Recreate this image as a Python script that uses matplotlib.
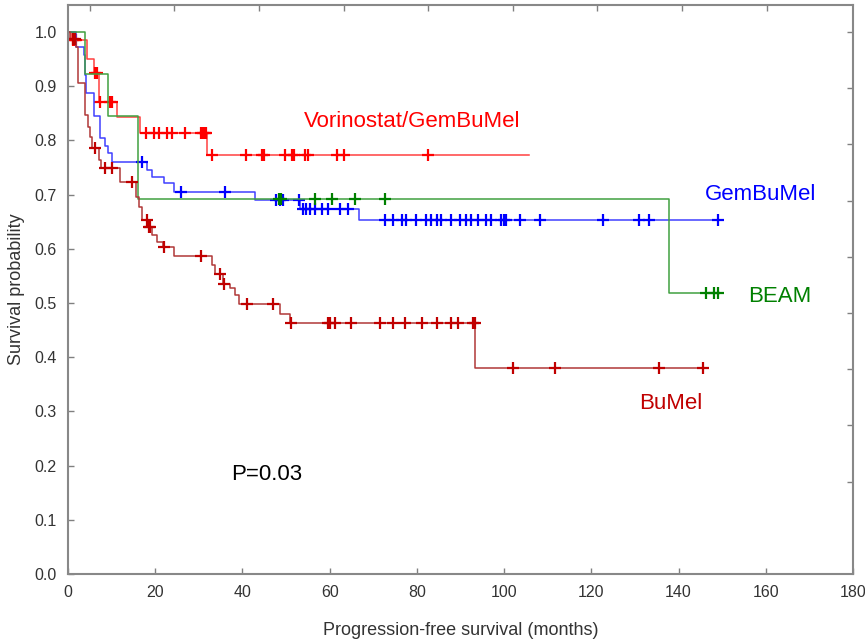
import numpy as np
import matplotlib
matplotlib.use("Agg")
import matplotlib.pyplot as plt

plt.rcParams['font.family'] = ['Liberation Sans', 'DejaVu Sans']

# Kaplan-Meier curves (months, survival after each drop)
vor_times = [0, 0.8, 4.3, 6.0, 7.1, 11.3, 16.6, 31.9]
vor_surv = [1.0, 0.985, 0.95, 0.924, 0.871, 0.844, 0.813, 0.774]
vor_end = 105.7
vor_cens = [1.1, 1.5, 1.8, 6.3, 6.7, 7.4, 9.6, 10.0, 17.9, 19.7, 20.8, 22.7, 23.9,
            26.9, 30.4, 30.9, 31.3, 31.6, 33.1, 40.8, 44.5, 45.0, 49.8, 51.4, 51.9,
            54.4, 55.0, 61.7, 63.4, 82.6]

gem_times = [0, 1.8, 3.6, 3.9, 4.1, 6.0, 7.3, 8.5, 9.2, 10.1, 18.1, 19.3, 22.0,
             24.3, 42.8, 53.2, 66.7]
gem_surv = [1.0, 0.973, 0.958, 0.92, 0.888, 0.845, 0.804, 0.79, 0.777, 0.761,
            0.745, 0.733, 0.721, 0.705, 0.691, 0.673, 0.653]
gem_end = 150.0
gem_cens = [16.9, 26.0, 35.9, 47.8, 48.5, 49.2, 52.9, 53.8, 54.6, 55.5, 56.7, 58.2,
            59.7, 62.4, 64.3, 72.7, 74.6, 76.5, 77.6, 79.9, 82.2, 83.3, 84.5, 85.6,
            87.9, 89.8, 91.2, 92.5, 94.0, 95.9, 97.1, 99.4, 99.9, 100.5, 103.6,
            108.2, 122.7, 131.0, 133.3, 149.0]

beam_times = [0, 4.0, 9.2, 16.1, 137.9]
beam_surv = [1.0, 0.923, 0.846, 0.692, 0.519]
beam_end = 149.5
beam_cens = [48.3, 48.9, 56.7, 60.5, 65.8, 72.7, 146.3, 148.1, 149.0]

bumel_times = [0, 0.5, 1.9, 2.4, 3.8, 4.6, 5.0, 5.6, 7.1, 7.6, 12.0, 15.5, 16.2,
               16.9, 18.5, 19.3, 20.4, 21.8, 24.3, 33.0, 33.8, 35.5, 37.2, 38.4,
               39.1, 48.7, 51.0, 93.4]
bumel_surv = [1.0, 0.987, 0.973, 0.906, 0.847, 0.825, 0.807, 0.787, 0.764, 0.750,
              0.724, 0.696, 0.678, 0.653, 0.640, 0.625, 0.613, 0.603, 0.587, 0.570,
              0.553, 0.536, 0.527, 0.515, 0.499, 0.480, 0.463, 0.381]
bumel_end = 146.0
bumel_cens = [1.2, 1.6, 6.3, 8.5, 10.1, 14.7, 18.1, 18.6, 18.9, 22.0, 30.4, 34.9,
              35.7, 41.0, 47.0, 51.1, 59.6, 60.1, 61.3, 64.9, 71.6, 74.6, 77.3,
              81.1, 84.5, 87.9, 89.5, 92.9, 93.3, 102.1, 111.6, 135.5, 145.5]

groups = [
    ("Vorinostat/GemBuMel", vor_times, vor_surv, vor_end, vor_cens, '#ff4040', '#ff0000', (79, 0.835), 'center'),
    ("GemBuMel", gem_times, gem_surv, gem_end, gem_cens, '#4040ff', '#0000ff', (146, 0.70), 'left'),
    ("BEAM", beam_times, beam_surv, beam_end, beam_cens, '#40a040', '#008000', (156, 0.513), 'left'),
    ("BuMel", bumel_times, bumel_surv, bumel_end, bumel_cens, '#b03838', '#c00000', (131, 0.315), 'left'),
]

fig = plt.figure(figsize=(8.65, 6.4), dpi=100)
ax = fig.add_axes([68 / 865, 66 / 640, 785 / 865, 569 / 640])

for name, t, s, end, cens, lc, mc, (tx, ty), ha in groups:
    tt = np.append(t, end)
    ss = np.append(s, s[-1])
    ax.step(tt, ss, where='post', color=lc, lw=1.1)
    idx = np.searchsorted(t, cens, side='right') - 1
    cy = np.asarray(s)[idx]
    ax.plot(cens, cy, linestyle='none', marker='+', ms=8, mew=1.6, color=mc)
    ax.text(tx, ty, name, color=mc, fontsize=16, ha=ha, va='center')

ax.text(37.5, 0.183, "P=0.03", fontsize=16, ha='left', va='center', color='black')

ax.set_xlim(0, 180)
ax.set_ylim(0, 1.05)
ax.set_xticks(np.arange(0, 181, 20))
ax.set_yticks(np.arange(0, 1.01, 0.1))
ax.set_yticklabels([f"{v:.1f}" for v in np.arange(0, 1.01, 0.1)])
ax.tick_params(direction='in', length=4, width=1, color='#808080',
               labelsize=11.5, labelcolor='#333333', pad=8)
for sp in ax.spines.values():
    sp.set_color('#888888')
    sp.set_linewidth(1.5)

top = ax.secondary_xaxis('top')
top.set_xticks([5.0 + 19.4 * k for k in range(9)])
top.tick_params(direction='in', length=4, width=1, color='#808080', labeltop=False)
top.spines['top'].set_visible(False)
right = ax.secondary_yaxis('right')
right.set_yticks([1.0 - 0.1037 * k for k in range(9)])
right.tick_params(direction='in', length=4, width=1, color='#808080', labelright=False)
right.spines['right'].set_visible(False)

ax.set_xlabel("Progression-free survival (months)", fontsize=13, color='#333333', labelpad=16)
ax.set_ylabel("Survival probability", fontsize=13, color='#333333', labelpad=7)

fig.savefig("out.png", dpi=100)
